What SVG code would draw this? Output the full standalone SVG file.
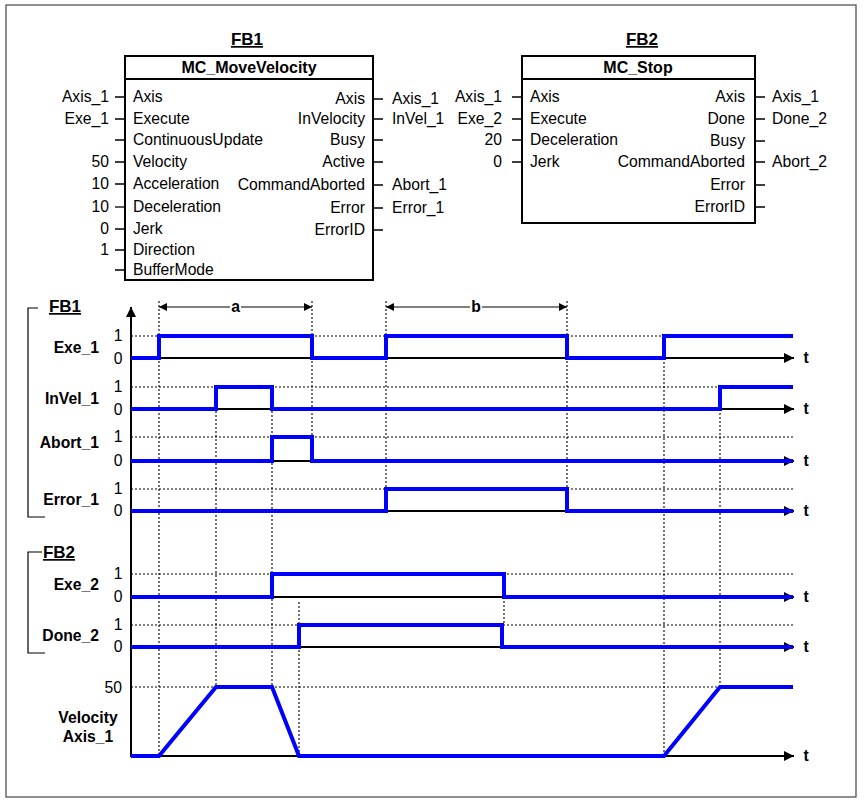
<svg xmlns="http://www.w3.org/2000/svg" width="866" height="804" viewBox="0 0 866 804">
<defs>
<style>
text{font-family:"Liberation Sans",Arial,sans-serif;font-size:15.7px;fill:#000}
.b{font-weight:bold}
.r{text-anchor:end}
.m{text-anchor:middle}
.title{font-weight:bold;font-size:17px;text-anchor:middle;text-decoration:underline}
.hdr{font-weight:bold;font-size:16px;text-anchor:middle}
.box{fill:#fff;stroke:#000;stroke-width:2}
.pin{stroke:#000;stroke-width:1.3;fill:none}
.dot{stroke:#000;stroke-width:1.1;stroke-dasharray:2,2;fill:none}
.ax{stroke:#000;stroke-width:2;fill:none}
.sig{stroke:#0000ff;stroke-width:4;fill:none;stroke-linejoin:miter}
.dim{stroke:#000;stroke-width:1.2;fill:none}
.brk{stroke:#000;stroke-width:1.2;fill:none}
</style>
<marker id="ah" viewBox="0 0 10 10" refX="10" refY="5" markerWidth="12" markerHeight="10" markerUnits="userSpaceOnUse" orient="auto">
<path d="M0,0 L10,5 L0,10 z" fill="#000"/>
</marker>
<marker id="dh" viewBox="0 0 10 10" refX="10" refY="5" markerWidth="11" markerHeight="8" markerUnits="userSpaceOnUse" orient="auto">
<path d="M0,0 L10,5 L0,10 z" fill="#000"/>
</marker>
</defs>
<rect x="6" y="5" width="850" height="792" fill="#fff" stroke="#444" stroke-width="1.2"/>

<g id="fb1">
<text class="title" x="247" y="45">FB1</text>
<rect class="box" x="125" y="56" width="248" height="224"/>
<line x1="125" y1="79" x2="373" y2="79" stroke="#000" stroke-width="2"/>
<text class="hdr" x="249" y="73">MC_MoveVelocity</text>
<text x="133" y="102">Axis</text>
<text x="133" y="124">Execute</text>
<text x="133" y="145">ContinuousUpdate</text>
<text x="133" y="167">Velocity</text>
<text x="133" y="189">Acceleration</text>
<text x="133" y="212">Deceleration</text>
<text x="133" y="234">Jerk</text>
<text x="133" y="255">Direction</text>
<text x="133" y="275">BufferMode</text>
<text class="r" x="365" y="104">Axis</text>
<text class="r" x="365" y="124">InVelocity</text>
<text class="r" x="365" y="145">Busy</text>
<text class="r" x="365" y="167">Active</text>
<text class="r" x="365" y="190">CommandAborted</text>
<text class="r" x="365" y="213">Error</text>
<text class="r" x="365" y="235">ErrorID</text>
<text class="r" x="109" y="102">Axis_1</text>
<text class="r" x="109" y="124">Exe_1</text>
<text class="r" x="109" y="167">50</text>
<text class="r" x="109" y="189">10</text>
<text class="r" x="109" y="212">10</text>
<text class="r" x="109" y="234">0</text>
<text class="r" x="109" y="255">1</text>
<text x="392" y="104">Axis_1</text>
<text x="392" y="124">InVel_1</text>
<text x="392" y="190">Abort_1</text>
<text x="392" y="213">Error_1</text>
</g>

<g id="fb2">
<text class="title" x="642" y="45">FB2</text>
<rect class="box" x="522" y="56" width="233" height="167"/>
<line x1="522" y1="79" x2="755" y2="79" stroke="#000" stroke-width="2"/>
<text class="hdr" x="638" y="73">MC_Stop</text>
<text x="530" y="102">Axis</text>
<text x="530" y="124">Execute</text>
<text x="530" y="145">Deceleration</text>
<text x="530" y="167">Jerk</text>
<text class="r" x="745" y="102">Axis</text>
<text class="r" x="745" y="124">Done</text>
<text class="r" x="745" y="146">Busy</text>
<text class="r" x="745" y="167">CommandAborted</text>
<text class="r" x="745" y="190">Error</text>
<text class="r" x="745" y="212">ErrorID</text>
<text class="r" x="502" y="102">Axis_1</text>
<text class="r" x="502" y="124">Exe_2</text>
<text class="r" x="502" y="145">20</text>
<text class="r" x="502" y="167">0</text>
<text x="772" y="102">Axis_1</text>
<text x="772" y="124">Done_2</text>
<text x="772" y="167">Abort_2</text>
</g>

<g id="connectors">
<path class="pin" d="M115,97H125M115,119H125M115,140H125M115,162H125M115,184H125M115,229H125M115,250H125M115,270H125"/>
<path class="pin" stroke-width="2.4" d="M115,207H125"/>
<path class="pin" d="M373,99H383M373,119H383M373,140H383M373,162H383M373,185H383M373,208H383M373,230H383"/>
<path class="pin" d="M512,97H522M512,119H522M512,140H522M512,162H522"/>
<path class="pin" d="M755,97H765M755,119H765M755,141H765M755,162H765M755,185H765M755,207H765"/>
</g>

<g id="timing-grid">
<path class="dot" d="M131,336H793M131,387H793M131,437H793M131,489H793M131,574H793M131,625H793M131,687H793"/>
<path class="dot" d="M159,301V756M216,387V687M272,387V687M312,301V437M299,602V756M386,301V489M567,301V511M504,597V625M664,358V756M720,409V687"/>
</g>

<g id="dimensions">
<line class="dim" x1="230" y1="307" x2="159" y2="307" marker-end="url(#dh)"/>
<line class="dim" x1="241" y1="307" x2="312" y2="307" marker-end="url(#dh)"/>
<text class="b m" x="235.5" y="312">a</text>
<line class="dim" x1="470" y1="307" x2="386" y2="307" marker-end="url(#dh)"/>
<line class="dim" x1="482" y1="307" x2="567" y2="307" marker-end="url(#dh)"/>
<text class="b m" x="476" y="312">b</text>
</g>

<g id="axes">
<line class="ax" x1="131" y1="757" x2="131" y2="307" marker-end="url(#ah)"/>
<line class="ax" x1="131" y1="358" x2="794" y2="358" marker-end="url(#ah)"/>
<line class="ax" x1="131" y1="409" x2="794" y2="409" marker-end="url(#ah)"/>
<line class="ax" x1="131" y1="461" x2="794" y2="461" marker-end="url(#ah)"/>
<line class="ax" x1="131" y1="511" x2="794" y2="511" marker-end="url(#ah)"/>
<line class="ax" x1="131" y1="597" x2="794" y2="597" marker-end="url(#ah)"/>
<line class="ax" x1="131" y1="647" x2="794" y2="647" marker-end="url(#ah)"/>
<line class="ax" x1="131" y1="756" x2="794" y2="756" marker-end="url(#ah)"/>
<text class="b m" x="806" y="363">t</text>
<text class="b m" x="806" y="414">t</text>
<text class="b m" x="806" y="466">t</text>
<text class="b m" x="806" y="516">t</text>
<text class="b m" x="806" y="602">t</text>
<text class="b m" x="806" y="652">t</text>
<text class="b m" x="806" y="761">t</text>
</g>

<g id="labels">
<path class="brk" d="M38,308H28V517H45"/>
<text class="title" x="65" y="312">FB1</text>
<path class="brk" d="M42,552H28V653H45"/>
<text class="title" x="59" y="558">FB2</text>
<text class="b r" x="99" y="353">Exe_1</text>
<text class="b r" x="99" y="404">InVel_1</text>
<text class="b r" x="99" y="448">Abort_1</text>
<text class="b r" x="99" y="505">Error_1</text>
<text class="b r" x="99" y="590">Exe_2</text>
<text class="b r" x="99" y="641">Done_2</text>
<text class="b m" x="88" y="723">Velocity</text>
<text class="b m" x="88" y="742">Axis_1</text>
<text class="m" x="118" y="341">1</text>
<text class="m" x="118" y="364">0</text>
<text class="m" x="118" y="392">1</text>
<text class="m" x="118" y="415">0</text>
<text class="m" x="118" y="442">1</text>
<text class="m" x="118" y="466">0</text>
<text class="m" x="118" y="494">1</text>
<text class="m" x="118" y="516">0</text>
<text class="m" x="118" y="579">1</text>
<text class="m" x="118" y="602">0</text>
<text class="m" x="118" y="630">1</text>
<text class="m" x="118" y="652">0</text>
<text class="r" x="122" y="693">50</text>
</g>

<g id="signals">
<path id="sig-exe1" class="sig" d="M131,358H159V336H312V358H386V336H567V358H664V336H793"/>
<path id="sig-invel1" class="sig" d="M131,409H216V387H272V409H720V387H793"/>
<path id="sig-abort1" class="sig" d="M131,461H272V437H312V461H793"/>
<path id="sig-error1" class="sig" d="M131,511H386V489H567V511H793"/>
<path id="sig-exe2" class="sig" d="M131,597H272V574H504V597H793"/>
<path id="sig-done2" class="sig" d="M131,647H299V625H502V647H793"/>
<path id="sig-vel" class="sig" d="M131,756H159L216,687H272L299,756H664L720,687H793"/>
</g>
</svg>
